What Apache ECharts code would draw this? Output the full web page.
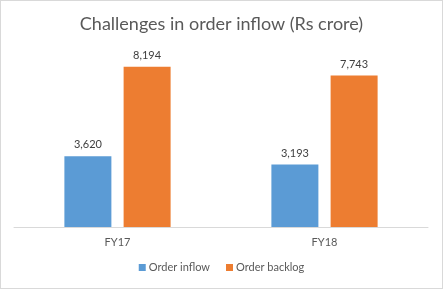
<!DOCTYPE html>
<html><head><meta charset="utf-8">
<script src="https://cdn.jsdelivr.net/npm/echarts@6/dist/echarts.min.js"></script>
<style>html,body{margin:0;padding:0;background:#fff}#c{width:441px;height:287px;border:1px solid #d9d9d9}</style>
</head><body><div id="c"></div>
<script>
const categories = ["FY17", "FY18"];
const orderInflow = [3620, 3193];
const orderBacklog = [8194, 7743];
const seriesNames = ["Order inflow", "Order backlog"];
const titleText = "Challenges in order inflow (Rs crore)";

const chart = echarts.init(document.getElementById('c'));
const font = "Lato, 'Open Sans', sans-serif";
const lbl = {show: true, position: 'top', distance: 6, color: '#404040', fontSize: 11, fontFamily: font,
  formatter: p => p.value.toLocaleString('en-US')};
chart.setOption({
  animation: false,
  title: {text: titleText, left: 'center', top: 9,
    textStyle: {color: '#595959', fontSize: 18, fontWeight: 'normal', fontFamily: font}},
  legend: {bottom: 10, left: 'center', itemWidth: 7, itemHeight: 7, itemGap: 16, icon: 'rect',
    textStyle: {color: '#595959', fontSize: 11, fontFamily: font, padding: [0,0,0,-2]}},
  grid: {left: 13, right: 14, top: 50, bottom: 61},
  xAxis: {type: 'category', data: categories,
    axisLine: {lineStyle: {color: '#d9d9d9'}}, axisTick: {show: false},
    axisLabel: {color: '#595959', fontSize: 11, fontFamily: font, margin: 10}},
  yAxis: {type: 'value', min: 0, max: 9000, show: false, splitLine: {show: false}},
  series: [
    {name: seriesNames[0], type: 'bar', data: orderInflow, barWidth: 47, barGap: '26%',
      itemStyle: {color: '#5B9BD5'}, label: lbl},
    {name: seriesNames[1], type: 'bar', data: orderBacklog, barWidth: 47,
      itemStyle: {color: '#ED7D31'}, label: lbl}
  ]
});
</script></body></html>
